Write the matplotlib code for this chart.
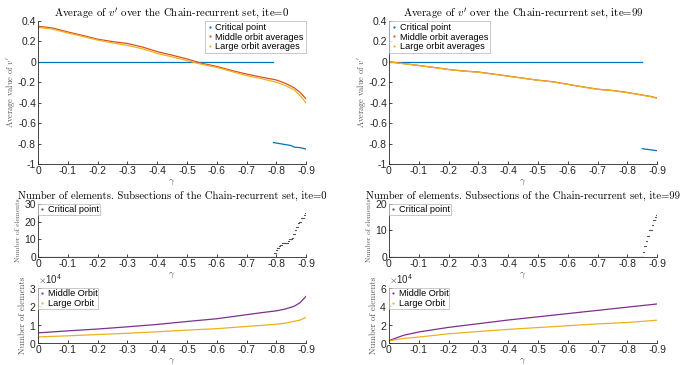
import numpy as np
import matplotlib
matplotlib.use("Agg")
import matplotlib.pyplot as plt
from matplotlib.lines import Line2D

plt.rcParams['font.family'] = ['Liberation Sans', 'DejaVu Sans']
plt.rcParams['mathtext.fontset'] = 'cm'
plt.rcParams['axes.unicode_minus'] = False

# MATLAB default colours
c_blue, c_orange, c_yellow, c_purple = '#0072BD', '#D95319', '#EDB120', '#7E2F8E'
c_axis = '#262626'

# ---- average of v' (top row) ----
gamma = [0, -0.05, -0.1, -0.15, -0.2, -0.25, -0.3, -0.35, -0.4, -0.45, -0.5,
         -0.55, -0.6, -0.65, -0.7, -0.75, -0.8, -0.83, -0.86, -0.88, -0.9]
mid_avg0 = [0.348, 0.330, 0.292, 0.258, 0.221, 0.198, 0.179, 0.145, 0.100, 0.065, 0.028,
            -0.015, -0.045, -0.085, -0.120, -0.150, -0.178, -0.210, -0.255, -0.300, -0.365]
large_avg0 = [0.338, 0.318, 0.282, 0.248, 0.212, 0.185, 0.160, 0.128, 0.082, 0.048, 0.012,
              -0.025, -0.055, -0.095, -0.135, -0.165, -0.200, -0.232, -0.275, -0.330, -0.405]
mid_avg99 = [0, -0.018, -0.036, -0.055, -0.075, -0.090, -0.100, -0.120, -0.140, -0.160, -0.180,
             -0.195, -0.220, -0.245, -0.268, -0.280, -0.300, -0.315, -0.330, -0.340, -0.355]
large_avg99 = [0, -0.019, -0.037, -0.056, -0.076, -0.091, -0.102, -0.121, -0.141, -0.161, -0.181,
               -0.197, -0.221, -0.246, -0.269, -0.282, -0.302, -0.317, -0.332, -0.342, -0.357]

# critical point: zero up to where it appears, then its value
crit_start0 = -0.79
crit_gamma0 = [-0.79, -0.80, -0.81, -0.82, -0.83, -0.85, -0.86, -0.88, -0.9]
crit_val0 = [-0.79, -0.795, -0.80, -0.805, -0.81, -0.82, -0.835, -0.84, -0.855]
crit_start99 = -0.85
crit_gamma99 = [-0.85, -0.9]
crit_val99 = [-0.85, -0.87]

# ---- number of elements, critical point ----
cnt_gamma0 = [-0.790, -0.795, -0.800, -0.805, -0.810, -0.815, -0.820, -0.825, -0.830, -0.835,
              -0.840, -0.845, -0.850, -0.855, -0.860, -0.865, -0.870, -0.875, -0.880, -0.885,
              -0.890, -0.895, -0.900]
cnt0 = [0, 2, 4, 5, 6, 7, 8, 8, 8, 8, 9, 10, 10, 11, 13, 15, 17, 19, 20, 22, 22, 24, 25]
cnt_gamma99 = [-0.850, -0.855, -0.860, -0.865, -0.870, -0.875, -0.880, -0.885, -0.890, -0.895, -0.900]
cnt99 = [0, 2, 4, 6, 8, 10, 10, 12, 14, 15, 16]

# ---- number of elements, orbits ----
gamma_n0 = [0, -0.1, -0.2, -0.3, -0.4, -0.5, -0.6, -0.7, -0.75, -0.8, -0.83, -0.86, -0.88, -0.9]
mid_n0 = [5500, 6600, 7600, 8800, 10100, 11700, 13200, 15400, 16500, 17500, 18500, 20000, 22000, 25500]
large_n0 = [3300, 3900, 4600, 5300, 6100, 7000, 7800, 9000, 9600, 10200, 10800, 11800, 12500, 14000]
gamma_n99 = [0, -0.02, -0.05, -0.1, -0.2, -0.3, -0.4, -0.5, -0.6, -0.7, -0.8, -0.9]
mid_n99 = [2500, 5000, 8500, 12000, 17000, 21000, 25000, 28500, 32000, 35500, 39000, 42500]
large_n99 = [2000, 3500, 5000, 6500, 10000, 12500, 14800, 16800, 18800, 20800, 22300, 24800]

xticks = [0, -0.1, -0.2, -0.3, -0.4, -0.5, -0.6, -0.7, -0.8, -0.9]
xticklabels = ['0', '-0.1', '-0.2', '-0.3', '-0.4', '-0.5', '-0.6', '-0.7', '-0.8', '-0.9']


def style(ax, ylim, yticks, yticklabels=None):
    ax.set_xlim(0, -0.9)
    ax.set_ylim(*ylim)
    ax.set_xticks(xticks)
    ax.set_xticklabels(xticklabels)
    ax.set_yticks(yticks)
    if yticklabels is not None:
        ax.set_yticklabels(yticklabels)
    for s in ['top', 'right']:
        ax.spines[s].set_visible(False)
    for s in ['left', 'bottom']:
        ax.spines[s].set_color(c_axis)
        ax.spines[s].set_linewidth(0.6)
    ax.tick_params(direction='in', length=2.5, width=0.6, labelsize=7.5,
                   colors=c_axis, pad=1.5)
    ax.set_xlabel(r'$\gamma$', fontsize=7, color='#555555', labelpad=1)


def dot_handles(labels, colors):
    return [Line2D([], [], color=c, marker='.', markersize=1.2, linestyle='none', label=l)
            for l, c in zip(labels, colors)]


def box_legend(ax, handles, loc, pad):
    leg = ax.legend(handles=handles, loc=loc, fontsize=6.6, frameon=True, fancybox=False,
                    handlelength=0.5, handletextpad=0.4, borderpad=pad,
                    labelspacing=0.05, borderaxespad=0.05)
    leg.get_frame().set_edgecolor('#b0b0b0')
    leg.get_frame().set_linewidth(0.6)
    return leg


fig = plt.figure(figsize=(6.84, 3.65), dpi=100)

W = 0.392
lefts = [0.0556, 0.5687]
top_b, top_h = 0.5507, 0.392
mid_b, mid_h = 0.296, 0.145
bot_b, bot_h = 0.0603, 0.151

panels = [
    (0, mid_avg0, large_avg0, crit_start0, crit_gamma0, crit_val0, cnt_gamma0, cnt0, 30,
     gamma_n0, mid_n0, large_n0, 30000, 'upper right'),
    (99, mid_avg99, large_avg99, crit_start99, crit_gamma99, crit_val99, cnt_gamma99, cnt99, 20,
     gamma_n99, mid_n99, large_n99, 60000, 'upper left'),
]

for left, p in zip(lefts, panels):
    (ite, mavg, lavg, cstart, cg, cv, ng, nc, cmax, gn, mn, ln, nmax, loc) = p

    # top: averages
    ax = fig.add_axes([left, top_b, W, top_h])
    ax.plot([0, cstart], [0, 0], color=c_blue, lw=0.9)
    ax.plot(cg, cv, color=c_blue, lw=0.9)
    ax.plot(gamma, mavg, color=c_orange, lw=0.9)
    ax.plot(gamma, lavg, color=c_yellow, lw=0.9)
    style(ax, (-1, 0.4), [-1, -0.8, -0.6, -0.4, -0.2, 0, 0.2, 0.4],
          ['-1', '-0.8', '-0.6', '-0.4', '-0.2', '0', '0.2', '0.4'])
    ax.set_title("Average of $v'$ over the Chain-recurrent set, ite=%d" % ite,
                 fontfamily='cmr10', fontsize=7.8, pad=3)
    ax.set_ylabel("Average value of $v'$", fontfamily='cmr10', fontsize=6,
                  color='#555555', labelpad=1)
    box_legend(ax, dot_handles(['Critical point', 'Middle orbit averages',
                                'Large orbit averages'],
                               [c_blue, c_orange, c_yellow]), loc, 0.2)

    # middle: number of elements in critical point
    ax = fig.add_axes([left, mid_b, W, mid_h])
    ax.plot([0, cstart], [0, 0], color='#777777', lw=0.9)
    # each count drawn as a short horizontal step centred on its gamma
    step = 0.005
    for g, c in zip(ng, nc):
        ax.plot([g + step * 0.5, g - step * 0.5], [c, c], color='#555555', lw=0.8)
    style(ax, (0, cmax), list(range(0, cmax + 1, 10)))
    ax.set_title('Number of elements. Subsections of the Chain-recurrent set, ite=%d' % ite,
                 fontfamily='cmr10', fontsize=7.7, pad=4)
    ax.set_ylabel('Number of elements', fontfamily='cmr10', fontsize=5.2,
                  color='#555555', labelpad=2.5)
    box_legend(ax, dot_handles(['Critical point'], ['#555555']), 'upper left', 0.1)

    # bottom: number of elements in orbits
    ax = fig.add_axes([left, bot_b, W, bot_h])
    ax.plot(gn, mn, color=c_purple, lw=0.9)
    ax.plot(gn, ln, color=c_yellow, lw=0.9)
    style(ax, (0, nmax), list(range(0, nmax + 1, nmax // 3)))
    ax.ticklabel_format(axis='y', style='sci', scilimits=(4, 4), useMathText=True)
    ax.yaxis.get_offset_text().set_fontsize(7)
    ax.yaxis.get_offset_text().set_color(c_axis)
    ax.set_ylabel('Number of elements', fontfamily='cmr10', fontsize=6.3,
                  color='#555555', labelpad=1)
    box_legend(ax, dot_handles(['Middle Orbit', 'Large Orbit'],
                               [c_purple, c_yellow]), 'upper left', 0.1)

fig.savefig('out.png', dpi=100)
